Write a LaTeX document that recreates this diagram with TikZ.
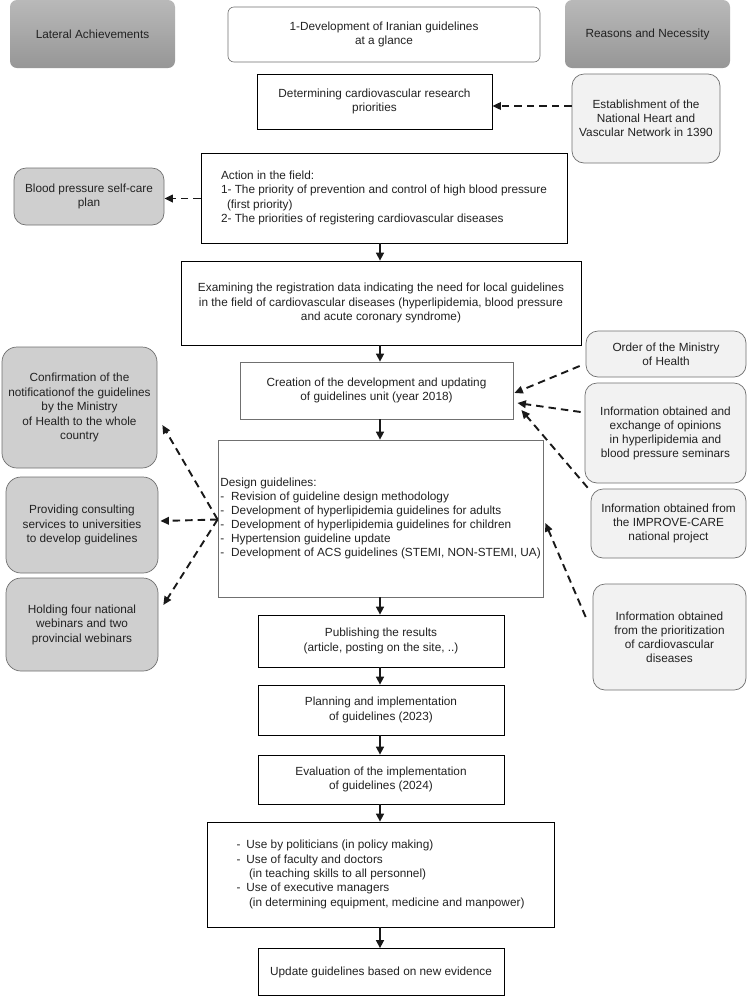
\documentclass[tikz,border=0pt]{standalone}
\usepackage{fontspec}
\setmainfont{Liberation Sans}
\usetikzlibrary{arrows.meta}
\definecolor{hdrtop}{HTML}{B9B9B9}
\definecolor{hdrbot}{HTML}{969696}
\definecolor{lightbox}{HTML}{F2F2F2}
\definecolor{darkbox}{HTML}{CFCFCF}
\definecolor{boxline}{HTML}{707070}
\definecolor{txt}{HTML}{222222}
\newcommand\dsh{-\hspace{7pt}}
\newcommand\usd{-\hspace{6pt}}
\begin{document}
\begin{tikzpicture}[x=1pt,y=-1pt,
  font=\fontsize{11.8}{14.3}\selectfont, text=txt,
  hdr/.style={rounded corners=7pt, top color=hdrtop, bottom color=hdrbot, inner sep=0pt, align=center},
  plain/.style={draw=black, line width=0.8pt, inner sep=0pt, align=center, fill=white},
  grayline/.style={plain, draw=boxline},
  titlebox/.style={plain, draw=boxline, line width=0.6pt, rounded corners=6pt},
  lbox/.style={draw=boxline, line width=0.7pt, fill=lightbox, rounded corners=12pt, inner sep=0pt, align=center, font=\fontsize{11.8}{14}\selectfont},
  dbox/.style={draw=boxline, line width=0.7pt, fill=darkbox, rounded corners=15pt, inner sep=0pt, align=center, font=\fontsize{11.8}{14.5}\selectfont},
  arr/.style={-{Triangle[length=8pt,width=8pt]}, line width=1.6pt, draw=black!90},
  darr/.style={-{Triangle[length=8.5pt,width=7.5pt]}, line width=1.9pt, dash pattern=on 7.5pt off 5pt, draw=black!90}
]
\useasboundingbox[fill=white] (0,0) rectangle (748,997);

% headers
\node[hdr, minimum width=165pt, minimum height=68pt] (lat) at (92.5,34) {Lateral Achievements};
\node[hdr, minimum width=165pt, minimum height=68pt] (rea) at (647.5,34) {Reasons and Necessity};
\node[titlebox, minimum width=312pt, minimum height=55pt] (title) at (384,34.5) {1-Development of Iranian guidelines\\at a glance};

% central column
\node[plain, minimum width=235pt, minimum height=55pt] (det) at (374.5,101.5) {Determining cardiovascular research\\priorities};
\node[plain, minimum width=366pt, minimum height=90pt, align=left] (act) at (384,198) {Action in the field:\\1- The priority of prevention and control of high blood pressure\\\hspace*{6pt}(first priority)\\2- The priorities of registering cardiovascular diseases};
\node[plain, minimum width=400pt, minimum height=84pt] (exa) at (381,303) {Examining the registration data indicating the need for local guidelines\\in the field of cardiovascular diseases (hyperlipidemia, blood pressure\\and acute coronary syndrome)};
\node[grayline, minimum width=273pt, minimum height=57pt] (cre) at (376.5,390.5) {Creation of the development and updating\\of guidelines unit (year 2018)};
\node[grayline, minimum width=325pt, minimum height=157pt, align=left, font=\fontsize{11.8}{14}\selectfont] (des) at (380.5,518.5) {Design guidelines:\\\dsh Revision of guideline design methodology\\\dsh Development of hyperlipidemia guidelines for adults\\\dsh Development of hyperlipidemia guidelines for children\\\dsh Hypertension guideline update\\\dsh Development of ACS guidelines (STEMI, NON-STEMI, UA)};
\node[plain, minimum width=246pt, minimum height=52pt] (pub) at (381,641) {Publishing the results\\(article, posting on the site, ..)};
\node[plain, minimum width=246pt, minimum height=50pt] (pla) at (381,710) {Planning and implementation\\of guidelines (2023)};
\node[plain, minimum width=246pt, minimum height=49pt] (eva) at (381,779.5) {Evaluation of the implementation\\of guidelines (2024)};
\node[plain, minimum width=347pt, minimum height=105pt, align=left] (use) at (380.5,874.5) {\usd Use by politicians (in policy making)\\\usd Use of faculty and doctors\\\hspace*{12.5pt}(in teaching skills to all personnel)\\\usd Use of executive managers\\\hspace*{12.5pt}(in determining equipment, medicine and manpower)};
\node[plain, minimum width=246pt, minimum height=47pt] (upd) at (381,972) {Update guidelines based on new evidence};

% right column
\node[lbox, minimum width=148pt, minimum height=89pt] (est) at (646,118.5) {Establishment of the\\National Heart and\\Vascular Network in 1390};
\node[lbox, minimum width=160pt, minimum height=46pt] (ord) at (666,354) {Order of the Ministry\\of Health};
\node[lbox, minimum width=161pt, minimum height=100pt] (sem) at (665.5,433) {Information obtained and\\exchange of opinions\\in hyperlipidemia and\\blood pressure seminars};
\node[lbox, minimum width=155pt, minimum height=69pt] (imp) at (668.5,523.5) {Information obtained from\\the IMPROVE-CARE\\national project};
\node[lbox, minimum width=153pt, minimum height=106pt] (pri) at (669.5,637) {Information obtained\\from the prioritization\\of cardiovascular\\diseases};

% left column
\node[dbox, minimum width=150pt, minimum height=57pt, rounded corners=12pt, font=\fontsize{11.8}{14}\selectfont] (bp) at (89,196.5) {Blood pressure self-care\\plan};
\node[dbox, minimum width=155pt, minimum height=121pt] (con) at (79.5,407.5) {Confirmation of the\\notificationof the guidelines\\by the Ministry\\of Health to the whole\\country};
\node[dbox, minimum width=152pt, minimum height=96pt] (pro) at (82,525) {Providing consulting\\services to universities\\to develop guidelines};
\node[dbox, minimum width=152pt, minimum height=93pt] (hol) at (82,624.5) {Holding four national\\webinars and two\\provincial webinars};

% spine
\coordinate (spine) at (380,0);
\draw[arr] (act.south -| spine) -- (exa.north -| spine);
\draw[arr] (exa.south -| spine) -- (cre.north -| spine);
\draw[arr] (cre.south -| spine) -- (des.north -| spine);
\draw[arr] (des.south -| spine) -- (pub.north -| spine);
\draw[arr] (pub.south -| spine) -- (pla.north -| spine);
\draw[arr] (pla.south -| spine) -- (eva.north -| spine);
\draw[arr] (eva.south -| spine) -- (use.north -| spine);
\draw[arr] (use.south -| spine) -- (upd.north -| spine);

% dashed connectors
\draw[darr] ([yshift=12.5pt]est.west) -- ([yshift=12.5pt]est.west -| det.east);
\draw[darr] ([yshift=-0.5pt]act.west) -- ([yshift=-0.5pt]act.west -| bp.east);
\draw[darr] ([xshift=-6pt,yshift=-12pt]ord.west) -- ([xshift=1pt,yshift=-2.5pt]cre.east);
\draw[darr] ([xshift=-4pt,yshift=21pt]sem.west) -- ([xshift=4pt,yshift=-12.5pt]cre.east);
\draw[darr] ([xshift=-3pt,yshift=1pt]imp.north west) -- ([xshift=8pt,yshift=-19.5pt]cre.east);
\draw[darr] ([xshift=-7pt,yshift=20pt]pri.west) -- ([xshift=2pt,yshift=-4.5pt]des.east);
\draw[darr] ([yshift=-1pt]des.west) -- ([xshift=5pt,yshift=-17.5pt]con.east);
\draw[darr] ([yshift=-1pt]des.west) -- ([xshift=2pt,yshift=4pt]pro.east);
\draw[darr] ([yshift=-1pt]des.west) -- ([xshift=5pt,yshift=19.5pt]hol.east);
\end{tikzpicture}
\end{document}
